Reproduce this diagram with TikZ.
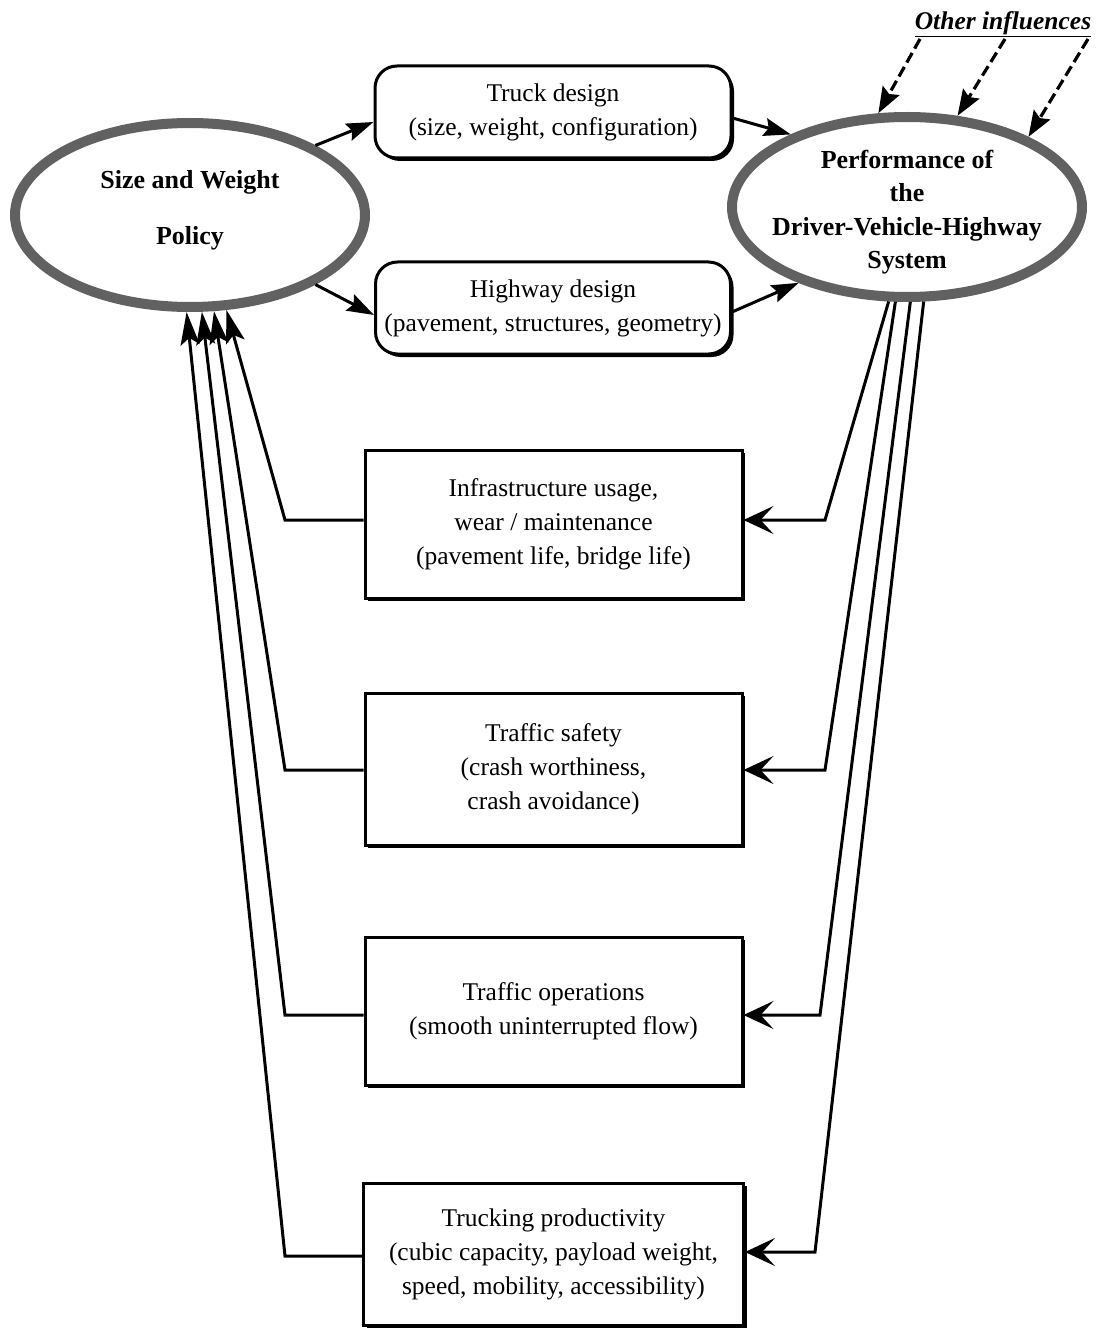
\documentclass[tikz,border=0pt]{standalone}
\usepackage{fontspec}
\setmainfont{Liberation Serif}
\usetikzlibrary{arrows.meta,shapes.geometric,shadows}
\begin{document}
\begin{tikzpicture}[x=1pt,y=-1pt,
  oval/.style={ellipse, draw=black!62, line width=10pt, fill=white, inner sep=0pt, outer sep=5pt},
  ovaltext/.style={align=center, inner sep=0pt, font=\fontsize{26}{33.5}\selectfont\bfseries},
  rbox/.style={rectangle, rounded corners=22pt, draw, line width=3pt, fill=white, align=center,
    inner sep=0pt, font=\fontsize{25.5}{34}\selectfont,
    general shadow={fill=black, shadow xshift=3pt, shadow yshift=-3pt}},
  sbox/.style={rectangle, draw, line width=3pt, fill=white, align=center, inner sep=0pt,
    font=\fontsize{25.5}{34}\selectfont,
    general shadow={fill=black, shadow xshift=3pt, shadow yshift=-3pt}},
  toparr/.style={line width=3pt, -{Stealth[length=27pt,width=18pt,inset=4pt]}},
  backarr/.style={line width=3pt, -{Stealth[length=33pt,width=19pt,inset=7pt]}},
  inarr/.style={line width=3pt, -{Stealth[length=30pt,width=28pt,inset=13pt]}},
  dasharr/.style={line width=3.2pt, dash pattern=on 11pt off 5pt, -{Stealth[length=26pt,width=19pt,inset=4pt]}}
]
\useasboundingbox (0,0) rectangle (1102,1329);

% main nodes
\node[oval, minimum width=350pt, minimum height=184pt] (pol) at (190,215) {};
\node[ovaltext] (poltext) at (190,210) {Size and Weight\\[22.5pt]Policy};
\node[oval, minimum width=350pt, minimum height=180pt] (perf) at (907,207) {};
\node[ovaltext] (perftext) at (907,212)
  {Performance of\\the\\Driver-Vehicle-Highway\\System};

\node[rbox, minimum width=356pt, minimum height=92pt] (truck) at (553,112)
  {Truck design\\(size, weight, configuration)};
\node[rbox, minimum width=355pt, minimum height=92pt] (hw) at (553,308)
  {Highway design\\(pavement, structures, geometry)};

\node[sbox, minimum width=377pt, minimum height=148pt] (infra) at (553.5,524)
  {Infrastructure usage,\\wear / maintenance\\(pavement life, bridge life)};
\node[sbox, minimum width=377pt, minimum height=152pt] (safe) at (553.5,769)
  {Traffic safety\\(crash worthiness,\\crash avoidance)};
\node[sbox, minimum width=377pt, minimum height=148pt] (ops) at (553.5,1011)
  {Traffic operations\\(smooth uninterrupted flow)};
\node[sbox, minimum width=380pt, minimum height=142pt] (prod) at (553.5,1254)
  {Trucking productivity\\(cubic capacity, payload weight,\\speed, mobility, accessibility)};

\node[font=\fontsize{25.5}{30}\selectfont\bfseries\itshape] (oi) at (1003,24)
  {\underline{Other influences}};

% top arrows
\draw[toparr] (pol.29) -- ([yshift=-10pt]truck.west);
\draw[toparr] (pol.-29) -- ([yshift=-7pt]hw.west);
\draw[toparr] ([yshift=-6pt]truck.east) -- (perf.148);
\draw[toparr] ([yshift=-4pt]hw.east) -- (perf.215);

% other influences
\coordinate (d1) at (920,39);
\coordinate (d2) at (1005,39);
\coordinate (d3) at (1088,39);
\draw[dasharr] (d1) -- (perf.107);
\draw[dasharr] (d2) -- (perf.61);
\draw[dasharr] (d3) -- (perf.30);

% right feedback lines
\coordinate (rb1) at (825,520);
\coordinate (rb2) at (825,770);
\coordinate (rb3) at (820,1015);
\coordinate (rb4) at (815,1252);
\draw[inarr] (perf.-101) -- (rb1) -- (rb1 -| infra.east);
\draw[inarr] (perf.-97) -- (rb2) -- (rb2 -| safe.east);
\draw[inarr] (perf.-88) -- (rb3) -- (rb3 -| ops.east);
\draw[inarr] (perf.-80) -- (rb4) -- (rb4 -| prod.east);

% left feedback lines
\coordinate (lb1) at (285,520);
\coordinate (lb2) at (285,770);
\coordinate (lb3) at (285,1015);
\coordinate (lb4) at (285,1256);
\draw[backarr] (lb1 -| infra.west) -- (lb1) -- (pol.-69);
\draw[backarr] (lb2 -| safe.west) -- (lb2) -- (pol.-76);
\draw[backarr] (lb3 -| ops.west) -- (lb3) -- (pol.-83);
\draw[backarr] (lb4 -| prod.west) -- (lb4) -- (pol.-92);
\end{tikzpicture}
\end{document}
